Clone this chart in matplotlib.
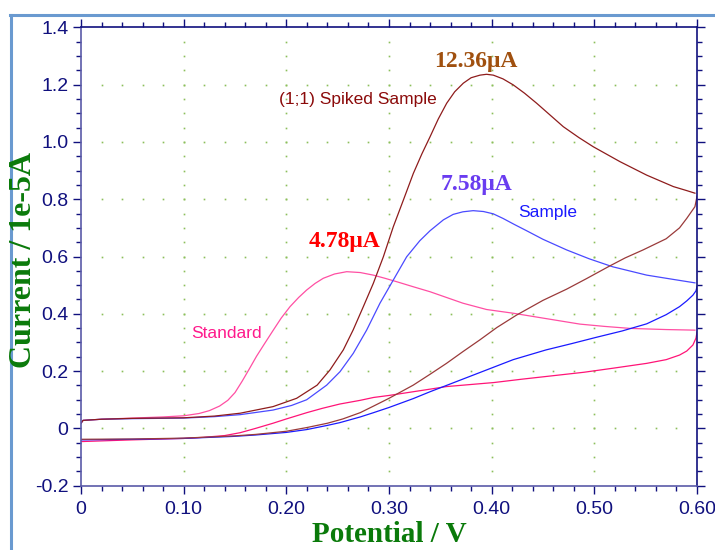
import numpy as np
import matplotlib
matplotlib.use("Agg")
import matplotlib.pyplot as plt
from matplotlib.lines import Line2D
from matplotlib.ticker import MultipleLocator, FixedLocator

# Standard (forward scan then return scan)
std_fwd_x = [0.000, 0.002, 0.020, 0.050, 0.080, 0.100, 0.115, 0.125, 0.135, 0.143, 0.150, 0.157,
             0.164, 0.171, 0.179, 0.1873, 0.195, 0.2036, 0.212, 0.2198, 0.228, 0.236, 0.247, 0.2588,
             0.272, 0.2847, 0.296, 0.3075, 0.324, 0.340, 0.356, 0.372, 0.395, 0.421, 0.450, 0.486,
             0.510, 0.535, 0.570, 0.598]
std_fwd_y = [0.018, 0.028, 0.032, 0.036, 0.040, 0.044, 0.052, 0.062, 0.078, 0.098, 0.125, 0.165,
             0.208, 0.252, 0.297, 0.343, 0.385, 0.425, 0.457, 0.483, 0.506, 0.524, 0.539, 0.547,
             0.544, 0.535, 0.524, 0.512, 0.494, 0.477, 0.457, 0.437, 0.415, 0.402, 0.385, 0.364,
             0.356, 0.349, 0.345, 0.343]
std_rev_x = [0.600, 0.599, 0.596, 0.590, 0.583, 0.570, 0.551, 0.518, 0.490, 0.460, 0.430, 0.402,
             0.356, 0.340, 0.320, 0.300, 0.285, 0.272, 0.252, 0.235, 0.220, 0.200, 0.187, 0.170,
             0.155, 0.140, 0.120, 0.100, 0.050, 0.000]
std_rev_y = [0.336, 0.315, 0.291, 0.270, 0.256, 0.240, 0.227, 0.210, 0.196, 0.184, 0.172, 0.160,
             0.146, 0.137, 0.126, 0.115, 0.108, 0.098, 0.085, 0.070, 0.055, 0.033, 0.018, 0.000,
             -0.015, -0.025, -0.031, -0.035, -0.040, -0.046]

# Sample
smp_fwd_x = [0.000, 0.002, 0.020, 0.050, 0.100, 0.130, 0.155, 0.187, 0.205, 0.2198, 0.2393, 0.2523,
             0.2652, 0.2782, 0.2912, 0.3042, 0.3172, 0.330, 0.340, 0.353, 0.3625, 0.372, 0.382,
             0.392, 0.4015, 0.411, 0.422, 0.434, 0.450, 0.473, 0.495, 0.518, 0.551, 0.577, 0.598]
smp_fwd_y = [0.018, 0.028, 0.032, 0.034, 0.036, 0.041, 0.048, 0.064, 0.080, 0.100, 0.151, 0.198,
             0.262, 0.343, 0.437, 0.518, 0.599, 0.655, 0.690, 0.728, 0.747, 0.756, 0.760,
             0.757, 0.749, 0.733, 0.712, 0.690, 0.660, 0.623, 0.592, 0.564, 0.535, 0.520, 0.508]
smp_rev_x = [0.600, 0.599, 0.596, 0.590, 0.583, 0.570, 0.551, 0.527, 0.502, 0.478, 0.453, 0.421,
             0.3885, 0.356, 0.340, 0.3236, 0.300, 0.285, 0.272, 0.252, 0.2393, 0.220, 0.200, 0.170,
             0.148, 0.100, 0.050, 0.000]
smp_rev_y = [0.495, 0.480, 0.465, 0.445, 0.425, 0.397, 0.365, 0.340, 0.318, 0.296, 0.274, 0.240,
             0.195, 0.150, 0.128, 0.104, 0.073, 0.055, 0.040, 0.020, 0.010, -0.004, -0.014, -0.023,
             -0.028, -0.035, -0.038, -0.040]

# (1;1) Spiked Sample
spk_fwd_x = [0.000, 0.002, 0.020, 0.050, 0.100, 0.130, 0.155, 0.187, 0.210, 0.230, 0.2425, 0.2555,
             0.265, 0.275, 0.2847, 0.2945, 0.3042, 0.314, 0.3237, 0.332, 0.340, 0.348, 0.3562,
             0.364, 0.3724, 0.380, 0.3886, 0.395, 0.4016, 0.411, 0.421, 0.432, 0.4438, 0.4698,
             0.485, 0.499, 0.525, 0.551, 0.577, 0.590, 0.598]
spk_fwd_y = [0.018, 0.028, 0.032, 0.035, 0.037, 0.043, 0.053, 0.076, 0.105, 0.151, 0.204, 0.274,
             0.343, 0.425, 0.506, 0.599, 0.704, 0.797, 0.890, 0.958, 1.018, 1.080, 1.135,
             1.175, 1.205, 1.224, 1.233, 1.236, 1.233, 1.220, 1.199, 1.170, 1.135, 1.053,
             1.015, 0.983, 0.931, 0.884, 0.844, 0.830, 0.821]
spk_rev_x = [0.600, 0.598, 0.590, 0.583, 0.570, 0.5475, 0.530, 0.515, 0.4925, 0.473, 0.450, 0.424,
             0.405, 0.3885, 0.372, 0.356, 0.340, 0.3236, 0.300, 0.285, 0.272, 0.255, 0.240, 0.220,
             0.200, 0.170, 0.150, 0.100, 0.050, 0.000]
spk_rev_y = [0.810, 0.774, 0.733, 0.700, 0.662, 0.623, 0.595, 0.567, 0.523, 0.486, 0.447, 0.395,
             0.352, 0.309, 0.268, 0.227, 0.189, 0.151, 0.105, 0.078, 0.055, 0.033, 0.018, 0.003,
             -0.010, -0.021, -0.026, -0.034, -0.037, -0.038]

x_ticks = [0.0, 0.1, 0.2, 0.3, 0.4, 0.5, 0.6]
x_labels = ["0", "0.10", "0.20", "0.30", "0.40", "0.50", "0.60"]
y_ticks = [-0.2, 0.0, 0.2, 0.4, 0.6, 0.8, 1.0, 1.2, 1.4]
y_labels = ["-0.2", "0", "0.2", "0.4", "0.6", "0.8", "1.0", "1.2", "1.4"]

navy = "#10107e"
green = "#0a7a0a"
sans = ["Liberation Sans", "DejaVu Sans"]
serif = ["Liberation Serif", "DejaVu Serif"]

fig = plt.figure(figsize=(7.15, 5.5), dpi=100)
ax = fig.add_axes([81 / 715, 1 - 485.7 / 550, 616 / 715, 458.4 / 550])

# light blue frame of the window
fig.add_artist(Line2D([11.3 / 715, 11.3 / 715], [0, 1 - 15.3 / 550], transform=fig.transFigure,
                      color="#6a9ad0", lw=2.2))
fig.add_artist(Line2D([10.2 / 715, 1], [1 - 15.3 / 550, 1 - 15.3 / 550], transform=fig.transFigure,
                      color="#6a9ad0", lw=2.2))

ax.set_xlim(0, 0.6)
ax.set_ylim(-0.2, 1.4)

# dotted grid: dots at minor positions along major lines
dot_c = "#8cbf5a"
for gx in x_ticks[1:-1]:
    ys = np.arange(-0.15, 1.36, 0.05)
    ax.plot([gx] * len(ys), ys, ls="none", marker="s", ms=1.2, mew=0, color=dot_c, zorder=0)
for gy in y_ticks[1:-1]:
    xs = np.arange(0.02, 0.59, 0.02)
    ax.plot(xs, [gy] * len(xs), ls="none", marker="s", ms=1.2, mew=0, color=dot_c, zorder=0)

lw = 0.9
ax.plot(std_fwd_x, std_fwd_y, color="#ff4fa3", lw=lw)
ax.plot(std_rev_x, std_rev_y, color="#ff1477", lw=lw)
ax.plot(smp_fwd_x, smp_fwd_y, color="#4a4aff", lw=lw)
ax.plot(smp_rev_x, smp_rev_y, color="#1a1aff", lw=lw)
ax.plot(spk_fwd_x, spk_fwd_y, color="#8e1c1c", lw=lw)
ax.plot(spk_rev_x, spk_rev_y, color="#9a3a3a", lw=lw)

ax.text(0.385, 1.282, "12.36μA", color="#a0500f", fontsize=17, fontweight="bold", family=serif,
        ha="center", va="center")
ax.text(0.270, 1.147, "(1;1) Spiked Sample", color="#8b0a0a", fontsize=12.5, family=sans,
        ha="center", va="center")
ax.text(0.3856, 0.850, "7.58μA", color="#6a3cf0", fontsize=17, fontweight="bold", family=serif,
        ha="center", va="center")
ax.text(0.4547, 0.752, "Sample", color="#1a1aff", fontsize=12.5, family=sans,
        ha="center", va="center")
ax.text(0.257, 0.651, "4.78μA", color="#ff0000", fontsize=17, fontweight="bold", family=serif,
        ha="center", va="center")
ax.text(0.142, 0.330, "Standard", color="#ff1a8c", fontsize=12.5, family=sans,
        ha="center", va="center")

ax.xaxis.set_major_locator(FixedLocator(x_ticks))
ax.yaxis.set_major_locator(FixedLocator(y_ticks))
ax.set_xticklabels(x_labels)
ax.set_yticklabels(y_labels)
ax.xaxis.set_minor_locator(MultipleLocator(0.02))
ax.yaxis.set_minor_locator(MultipleLocator(0.05))
ax.tick_params(which="both", direction="out", top=True, right=True, colors=navy,
               labelcolor=navy, width=1)
ax.tick_params(which="major", length=6, labelsize=14)
ax.tick_params(which="minor", length=3.5)
ax.tick_params(axis="x", pad=5)
ax.tick_params(axis="y", pad=3)
for lab in ax.get_xticklabels() + ax.get_yticklabels():
    lab.set_family(sans)

for side in ["top", "right"]:
    ax.spines[side].set_color(navy)
for side in ["left", "bottom"]:
    ax.spines[side].set_color("#5a5aa8")
for sp in ax.spines.values():
    sp.set_linewidth(1.2)

fig.text(389 / 715, 1 - 535 / 550, "Potential / V", color=green, fontsize=21, fontweight="bold",
         family=serif, ha="center", va="center")
fig.text(24 / 715, 1 - 260 / 550, "Current / 1e-5A", color=green, fontsize=23, fontweight="bold",
         family=serif, ha="center", va="center", rotation=90)

fig.savefig("out.png", dpi=100)
